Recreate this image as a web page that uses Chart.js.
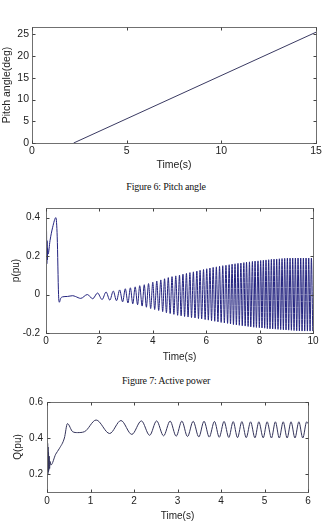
<!DOCTYPE html>
<html><head><meta charset="utf-8">
<script src="https://cdn.jsdelivr.net/npm/chart.js@4.4.0/dist/chart.umd.min.js"></script>
<style>
html,body{margin:0;padding:0;background:#fff;width:322px;height:526px;overflow:hidden;position:relative}
canvas{position:absolute;left:0}
.cap{position:absolute;left:5px;width:322px;text-align:center;font-family:"Liberation Serif",serif;font-size:10px;line-height:12px;color:#111;white-space:nowrap;letter-spacing:-0.2px}
</style></head><body>
<canvas id="c1" width="322" height="175" style="top:0px;width:322px;height:175px"></canvas>
<div class="cap" style="top:181px">Figure 6: Pitch angle</div>
<canvas id="c2" width="322" height="175" style="top:195px;width:322px;height:175px"></canvas>
<div class="cap" style="top:375px">Figure 7: Active power</div>
<canvas id="c3" width="322" height="136" style="top:390px;width:322px;height:136px"></canvas>
<script>
// ---- Figure 6: Pitch angle ----
const pitchTime = [2.2, 15];
const pitchDeg  = [0, 25.5];
const pitchXTicks = [0, 5, 10, 15];
const pitchYTicks = [0, 5, 10, 15, 20, 25];

// ---- Figure 7: Active power (p, pu) ----
const powerTime = [
 0,0.01,0.02,0.03,0.04,0.05,0.06,0.08,0.15,0.25,
 0.37,0.42,0.47,0.5,0.55,0.62,0.8,1.0,1.1,1.3,
 1.55,1.75,1.93,2.1,2.25,2.39,2.52,2.64,2.76,2.87,
 2.97,3.07,3.16,3.25,3.34,3.43,3.51,3.6,3.68,3.76,
 3.84,3.92,4.0,4.07,4.15,4.22,4.3,4.37,4.44,4.51,
 4.58,4.65,4.72,4.79,4.86,4.93,5.0,5.06,5.13,5.19,
 5.26,5.32,5.39,5.45,5.52,5.58,5.65,5.71,5.77,5.83,
 5.9,5.96,6.02,6.08,6.14,6.2,6.26,6.32,6.38,6.44,
 6.5,6.56,6.62,6.68,6.74,6.8,6.86,6.91,6.97,7.02,
 7.08,7.13,7.19,7.24,7.3,7.35,7.41,7.46,7.51,7.57,
 7.62,7.67,7.73,7.78,7.83,7.88,7.94,7.99,8.04,8.09,
 8.14,8.19,8.24,8.29,8.34,8.39,8.44,8.49,8.54,8.59,
 8.64,8.69,8.74,8.79,8.84,8.89,8.94,8.99,9.04,9.09,
 9.14,9.19,9.24,9.29,9.34,9.39,9.44,9.49,9.54,9.59,
 9.64,9.69,9.74,9.79,9.84,9.89,9.94,9.99
];
const powerVal = [
 0.38,0.15,0.33,0.16,0.28,0.18,0.24,0.21,0.28,0.35,
 0.40,0.30,0.0,-0.04,-0.02,-0.012,-0.01,-0.006,-0.01,-0.02,
 0.0,-0.022,0.008,-0.026,0.013,-0.029,0.018,-0.032,0.024,-0.038,
 0.03,-0.044,0.035,-0.048,0.04,-0.053,0.046,-0.06,0.051,-0.066,
 0.057,-0.073,0.064,-0.078,0.07,-0.083,0.076,-0.089,0.082,-0.095,
 0.088,-0.099,0.093,-0.103,0.097,-0.108,0.101,-0.111,0.106,-0.114,
 0.11,-0.117,0.114,-0.12,0.118,-0.122,0.122,-0.125,0.126,-0.127,
 0.13,-0.13,0.134,-0.133,0.138,-0.136,0.141,-0.139,0.144,-0.142,
 0.147,-0.145,0.15,-0.148,0.152,-0.15,0.155,-0.153,0.158,-0.156,
 0.16,-0.158,0.162,-0.16,0.164,-0.162,0.166,-0.164,0.168,-0.166,
 0.17,-0.168,0.172,-0.17,0.174,-0.171,0.175,-0.172,0.177,-0.174,
 0.178,-0.175,0.18,-0.177,0.181,-0.178,0.183,-0.179,0.184,-0.18,
 0.185,-0.181,0.186,-0.182,0.187,-0.183,0.188,-0.184,0.189,-0.185,
 0.189,-0.186,0.19,-0.187,0.19,-0.188,0.19,-0.189,0.19,-0.19,
 0.19,-0.19,0.19,-0.19,0.19,-0.19,0.19,-0.19
];
const powerXTicks = [0, 2, 4, 6, 8, 10];
const powerYTicks = [-0.2, 0, 0.2, 0.4];

// ---- Reactive power Q (pu) ----
const qTime = [
 0,0.005,0.01,0.015,0.02,0.025,0.03,0.035,0.04,0.05,
 0.06,0.07,0.09,0.2,0.28,0.4,0.47,0.59,0.7,0.86,
 1.13,1.44,1.70,1.95,2.17,2.36,2.52,2.68,2.83,2.97,
 3.10,3.23,3.36,3.49,3.61,3.73,3.85,3.96,4.07,4.18,
 4.28,4.38,4.48,4.58,4.68,4.78,4.87,4.97,5.06,5.16,
 5.25,5.34,5.43,5.52,5.61,5.70,5.79,5.88,5.97,6.0
];
const qVal = [
 0.1,0.39,0.19,0.37,0.2,0.35,0.21,0.32,0.22,0.3,
 0.23,0.27,0.25,0.31,0.34,0.40,0.48,0.435,0.43,0.435,
 0.50,0.425,0.497,0.42,0.495,0.415,0.495,0.412,0.494,0.41,
 0.494,0.408,0.493,0.406,0.493,0.405,0.492,0.404,0.492,0.403,
 0.491,0.402,0.491,0.402,0.49,0.401,0.49,0.401,0.49,0.40,
 0.49,0.40,0.49,0.40,0.49,0.40,0.49,0.40,0.49,0.48
];
const qXTicks = [0, 1, 2, 3, 4, 5, 6];
const qYTicks = [0.2, 0.4, 0.6];

const FONT = '"Liberation Sans", Arial, sans-serif';
const TXT = '#222';

const boxPlugin = {
  id: 'mbox',
  afterDraw(chart) {
    const {ctx, chartArea: a, scales: {x, y}} = chart;
    ctx.save();
    const l = Math.round(a.left) + 0.5, r = Math.round(a.right) + 0.5;
    const t = Math.round(a.top) + 0.5, b = Math.round(a.bottom) + 0.5;
    ctx.strokeStyle = '#707070'; ctx.lineWidth = 1;
    ctx.strokeRect(l, t, r - l, b - t);
    ctx.strokeStyle = '#444';
    const L = 3;
    ctx.beginPath();
    x.ticks.forEach(tk => {
      const px = Math.round(x.getPixelForValue(tk.value)) + 0.5;
      ctx.moveTo(px, b); ctx.lineTo(px, b - L);
      ctx.moveTo(px, t); ctx.lineTo(px, t + L);
    });
    y.ticks.forEach(tk => {
      const py = Math.round(y.getPixelForValue(tk.value)) + 0.5;
      ctx.moveTo(l, py); ctx.lineTo(l + L, py);
      ctx.moveTo(r, py); ctx.lineTo(r - L, py);
    });
    ctx.stroke();
    ctx.restore();
  }
};

function pts(xs, ys) { return xs.map((v, i) => ({x: v, y: ys[i]})); }
function fmt(v) { return String(+(+v).toFixed(2)); }

function makeChart(id, cfg) {
  return new Chart(document.getElementById(id), {
    type: 'line',
    data: {datasets: [{
      data: pts(cfg.xs, cfg.ys),
      borderColor: cfg.color, borderWidth: 1, pointRadius: 0,
      cubicInterpolationMode: cfg.smooth ? 'monotone' : 'default', tension: 0, fill: false
    }]},
    options: {
      responsive: false, devicePixelRatio: 1, animation: false,
      layout: {padding: cfg.pad},
      plugins: {legend: {display: false}, tooltip: {enabled: false}},
      scales: {
        x: {
          type: 'linear', min: cfg.xr[0], max: cfg.xr[1],
          afterBuildTicks: s => { s.ticks = cfg.xt.map(v => ({value: v})); },
          afterFit: s => { s.height = cfg.xh; s.paddingLeft = 0; s.paddingRight = 0; },
          grid: {display: false, drawTicks: false}, border: {display: false},
          ticks: {padding: cfg.xtp, color: TXT, font: {family: FONT, size: cfg.fs}, maxRotation: 0, autoSkip: false, callback: fmt},
          title: {display: true, text: 'Time(s)', color: TXT, font: {family: FONT, size: cfg.fs}, padding: {top: cfg.xtitlep, bottom: cfg.xtitlep}}
        },
        y: {
          type: 'linear', min: cfg.yr[0], max: cfg.yr[1],
          afterBuildTicks: s => { s.ticks = cfg.yt.map(v => ({value: v})); },
          afterFit: s => { s.width = cfg.yw; s.paddingTop = 0; s.paddingBottom = 0; },
          grid: {display: false, drawTicks: false}, border: {display: false},
          ticks: {padding: cfg.ytp, color: TXT, font: {family: FONT, size: cfg.fs}, autoSkip: false, callback: fmt},
          title: {display: true, text: cfg.ytitle, color: TXT, font: {family: FONT, size: cfg.fs}, padding: {top: cfg.ytitlep, bottom: cfg.ytitlep}}
        }
      }
    },
    plugins: [boxPlugin]
  });
}

makeChart('c1', {
  xs: pitchTime, ys: pitchDeg, color: '#3a3a62', smooth: false,
  xr: [0, 15], yr: [0, 26.7], xt: pitchXTicks, yt: pitchYTicks,
  pad: {left: 0, right: 6, top: 27, bottom: 0}, xh: 32, yw: 32,
  xtp: 2, ytp: 3, xtitlep: 4, ytitlep: 1, fs: 10.5, ytitle: 'Pitch angle(deg)'
});
makeChart('c2', {
  xs: powerTime, ys: powerVal, color: '#23237f', smooth: true,
  xr: [0, 10], yr: [-0.2, 0.45], xt: powerXTicks, yt: powerYTicks,
  pad: {left: 0, right: 9, top: 13, bottom: 0}, xh: 37, yw: 46,
  xtp: 2, ytp: 6, xtitlep: 7, ytitlep: 10, fs: 10, ytitle: 'p(pu)'
});
makeChart('c3', {
  xs: qTime, ys: qVal, color: '#33335a', smooth: true,
  xr: [0, 6], yr: [0.1, 0.6], xt: qXTicks, yt: qYTicks,
  pad: {left: 0, right: 14, top: 12, bottom: 0}, xh: 34, yw: 47,
  xtp: 3, ytp: 4, xtitlep: 4, ytitlep: 12, fs: 10, ytitle: 'Q(pu)'
});
</script>
</body></html>
